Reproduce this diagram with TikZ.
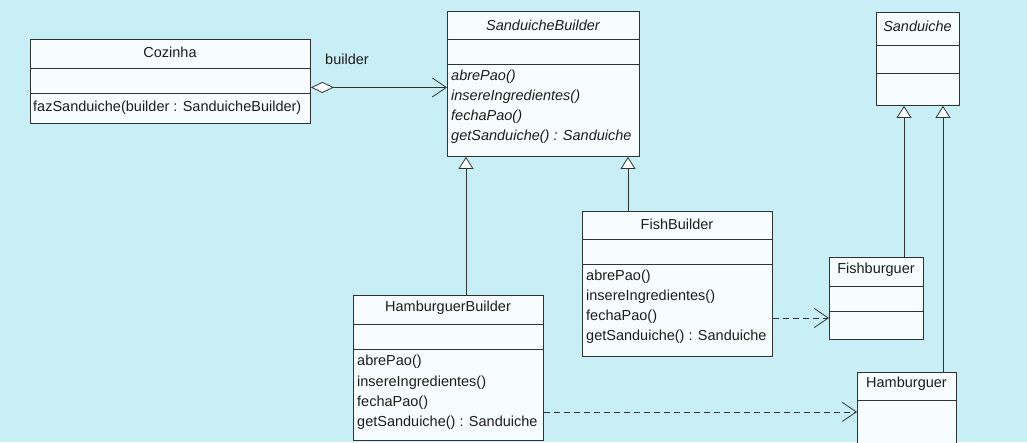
\documentclass[tikz,border=0pt]{standalone}
\usepackage{fontspec}
\setmainfont{Liberation Sans}
\usepackage{xcolor}
\usetikzlibrary{arrows.meta,calc}

\definecolor{bgblue}{HTML}{C8EEF6}
\definecolor{boxwhite}{HTML}{F7FDFF}
\definecolor{linegray}{HTML}{2E3436}
\definecolor{textgray}{HTML}{1C1C1C}

\tikzset{
  classbox/.style={draw=linegray, fill=boxwhite, line width=0.9pt, inner sep=0pt, anchor=north west},
  sep/.style={draw=linegray, line width=0.9pt},
  title/.style={text=textgray, font=\fontsize{14.5}{16}\selectfont, inner sep=0pt},
  member/.style={title, anchor=west},
  inherit/.style={draw=linegray, line width=0.8pt, -{Triangle[fill=white, width=15pt, length=12pt]}},
  depends/.style={draw=linegray, line width=0.8pt, dash pattern=on 6pt off 4pt, -{Straight Barb[length=14pt, width=19pt]}},
  aggreg/.style={draw=linegray, line width=0.8pt, {Diamond[fill=white, length=23pt, width=11pt]}-{Straight Barb[length=14pt, width=19pt]}}
}

\begin{document}
\begin{tikzpicture}[x=1pt, y=-1pt]
    \useasboundingbox (0,0) rectangle (1027,442);
    \fill[bgblue] (0,0) rectangle (1027,442);
    \clip (0,0) rectangle (1027,442);

    % Cozinha
    \node[classbox, minimum width=280pt, minimum height=84pt] (cozinha) at (30,39) {};
    \draw[sep] (30,68) -- (310,68);
    \draw[sep] (30,93) -- (310,93);
    \node[title] (cozinhaname) at (170,52) {Cozinha};
    \node[member] (fazsanduiche) at (33,108) {fazSanduiche(builder : SanduicheBuilder)};

    % SanduicheBuilder (abstract)
    \node[classbox, minimum width=192pt, minimum height=145pt] (sbuilder) at (447,11) {};
    \draw[sep] (447,39) -- (639,39);
    \draw[sep] (447,64) -- (639,64);
    \node[title, font=\fontsize{14.5}{16}\selectfont\itshape] (sbuildername) at (543,25) {SanduicheBuilder};
    \foreach \m [count=\i from 0] in {abrePao(), insereIngredientes(), fechaPao(), getSanduiche() : Sanduiche}
        \node[member, font=\fontsize{14.5}{16}\selectfont\itshape] (sbm\i) at (451,77+20*\i) {\m};

    % Sanduiche (abstract)
    \node[classbox, minimum width=83pt, minimum height=93pt] (sanduiche) at (876,12) {};
    \draw[sep] (876,45) -- (959,45);
    \draw[sep] (876,73) -- (959,73);
    \node[title, font=\fontsize{14.5}{16}\selectfont\itshape] (sanduichename) at (917.5,26) {Sanduiche};

    % FishBuilder
    \node[classbox, minimum width=190pt, minimum height=145pt] (fbuilder) at (582,211) {};
    \draw[sep] (582,239) -- (772,239);
    \draw[sep] (582,264) -- (772,264);
    \node[title] (fbuildername) at (677,224) {FishBuilder};
    \foreach \m [count=\i from 0] in {abrePao(), insereIngredientes(), fechaPao(), getSanduiche() : Sanduiche}
        \node[member] (fbm\i) at (586,277+20*\i) {\m};

    % HamburguerBuilder
    \node[classbox, minimum width=190pt, minimum height=145pt] (hbuilder) at (353,295) {};
    \draw[sep] (353,324) -- (543,324);
    \draw[sep] (353,349) -- (543,349);
    \node[title] (hbuildername) at (448,308) {HamburguerBuilder};
    \foreach \m [count=\i from 0] in {abrePao(), insereIngredientes(), fechaPao(), getSanduiche() : Sanduiche}
        \node[member] (hbm\i) at (357,362+20.3*\i) {\m};

    % Fishburguer
    \node[classbox, minimum width=94pt, minimum height=82pt] (fishburguer) at (829,257) {};
    \draw[sep] (829,286) -- (923,286);
    \draw[sep] (829,311) -- (923,311);
    \node[title] (fishburguername) at (876,270) {Fishburguer};

    % Hamburguer
    \node[classbox, minimum width=99pt, minimum height=90pt] (hamburguer) at (857,372) {};
    \draw[sep] (857,400) -- (956,400);
    \node[title] (hamburguername) at (906.5,384) {Hamburguer};

    % associations
    \draw[aggreg] ($(cozinha.east)+(0,6)$) -- ($(sbuilder.west |- cozinha.east)+(0,6)$);
    \node[title] (builderrole) at (347,59) {builder};

    \draw[inherit] ($(hbuilder.north west)+(113,0)$) coordinate (hbtop) -- (hbtop |- sbuilder.south);
    \draw[inherit] ($(fbuilder.north west)+(46,0)$) coordinate (fbtop) -- (fbtop |- sbuilder.south);
    \draw[inherit] ($(fishburguer.north west)+(75,0)$) coordinate (fbgtop) -- (fbgtop |- sanduiche.south);
    \draw[inherit] ($(hamburguer.north west)+(86,0)$) coordinate (hbgtop) -- (hbgtop |- sanduiche.south);

    \draw[depends] ($(fbuilder.east |- fbm2)+(0,1)$) coordinate (fdep) -- (fdep -| fishburguer.west);
    \draw[depends] ($(hbuilder.east |- hbm3)+(0,-11)$) coordinate (hdep) -- (hdep -| hamburguer.west);
\end{tikzpicture}
\end{document}
